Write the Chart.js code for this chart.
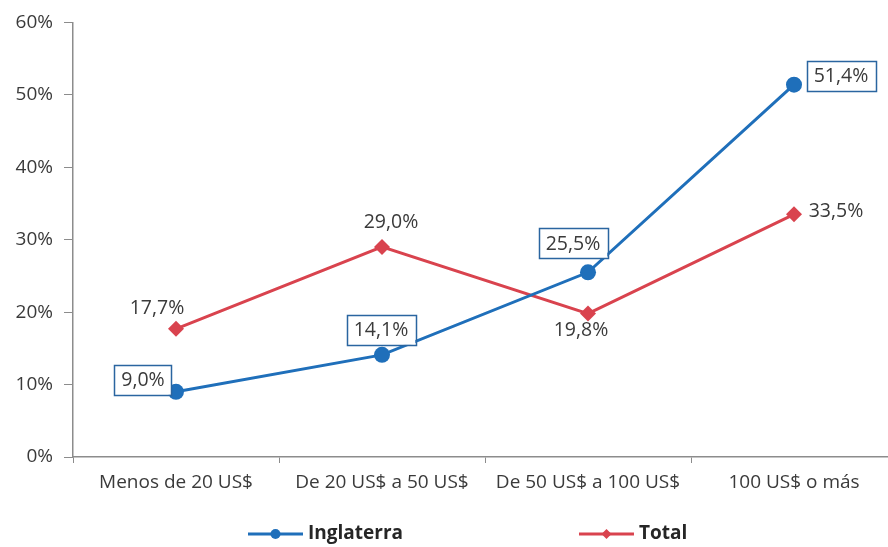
<!DOCTYPE html>
<html>
<head>
<meta charset="utf-8">
<script src="https://cdn.jsdelivr.net/npm/chart.js@4/dist/chart.umd.min.js"></script>
<style>
  html, body { margin: 0; padding: 0; background: #ffffff; width: 888px; height: 547px; overflow: hidden; }
  #c { display: block; }
</style>
</head>
<body>
<canvas id="c" width="905" height="547"></canvas>
<script>
// ---- data ----
const categories = ['Menos de 20 US$', 'De 20 US$ a 50 US$', 'De 50 US$ a 100 US$', '100 US$ o más'];
const inglaterra = [9.0, 14.1, 25.5, 51.4];
const total = [17.7, 29.0, 19.8, 33.5];
const yTicks = [0, 10, 20, 30, 40, 50, 60];
const seriesNames = ['Inglaterra', 'Total'];

// ---- styles ----
const BLUE = '#1f6fba';
const RED = '#d9434e';
const AXIS = '#8c8c8c';
const TEXT = '#3a3a3a';
const FONT = "'Open Sans', 'DejaVu Sans', sans-serif";

// label offsets relative to each point (style only)
const labelOffsets = [
  [[-33, -12], [-1, -25], [-15, -29], [47, -9]],
  [[-19, -21], [9, -26], [-7, 16], [42, -4]]
];
const labelBoxed = [true, false];

const fmt = v => v.toFixed(1).replace('.', ',') + '%';

const dataLabelPlugin = {
  id: 'dataLabels',
  afterDatasetsDraw(chart) {
    const ctx = chart.ctx;
    ctx.save();
    ctx.font = '19.5px ' + FONT;
    ctx.textAlign = 'center';
    ctx.textBaseline = 'middle';
    chart.data.datasets.forEach((ds, di) => {
      const meta = chart.getDatasetMeta(di);
      meta.data.forEach((el, i) => {
        const txt = fmt(ds.data[i]);
        const x = el.x + labelOffsets[di][i][0];
        const y = el.y + labelOffsets[di][i][1];
        if (labelBoxed[di]) {
          const w = ctx.measureText(txt).width + 14;
          const h = 30;
          ctx.fillStyle = '#ffffff';
          ctx.fillRect(x - w / 2, y - h / 2, w, h);
          ctx.strokeStyle = '#2a65a0';
          ctx.lineWidth = 1.5;
          ctx.strokeRect(Math.round(x - w / 2) + 0.5, Math.round(y - h / 2) + 0.5, Math.round(w), h);
        }
        ctx.fillStyle = TEXT;
        ctx.fillText(txt, x, y + 1);
      });
    });
    ctx.restore();
  }
};

const legendPlugin = {
  id: 'customLegend',
  afterDraw(chart) {
    const ctx = chart.ctx;
    ctx.save();
    ctx.font = 'bold 19px ' + FONT;
    ctx.textBaseline = 'middle';
    ctx.textAlign = 'left';
    const y = 534;
    const lineLen = 55, textGap = 5, itemGap = 176;
    let x = 248;
    chart.data.datasets.forEach((ds, di) => {
      ctx.strokeStyle = ds.borderColor;
      ctx.lineWidth = 3;
      ctx.beginPath();
      ctx.moveTo(x, y);
      ctx.lineTo(x + lineLen, y);
      ctx.stroke();
      ctx.fillStyle = ds.borderColor;
      const cx = x + lineLen / 2;
      ctx.beginPath();
      if (ds.pointStyle === 'rectRot') {
        const r = 5;
        ctx.moveTo(cx, y - r); ctx.lineTo(cx + r, y); ctx.lineTo(cx, y + r); ctx.lineTo(cx - r, y);
        ctx.closePath();
      } else {
        ctx.arc(cx, y, 5, 0, Math.PI * 2);
      }
      ctx.fill();
      ctx.fillStyle = '#262626';
      const tx = x + lineLen + textGap;
      ctx.fillText(ds.label, tx, y);
      x = tx + ctx.measureText(ds.label).width + itemGap;
    });
    ctx.restore();
  }
};

new Chart(document.getElementById('c'), {
  type: 'line',
  data: {
    labels: categories,
    datasets: [
      {
        label: seriesNames[0],
        data: inglaterra,
        borderColor: BLUE,
        backgroundColor: BLUE,
        borderWidth: 3,
        pointStyle: 'circle',
        pointRadius: 8,
        pointBorderWidth: 0,
        tension: 0
      },
      {
        label: seriesNames[1],
        data: total,
        borderColor: RED,
        backgroundColor: RED,
        borderWidth: 3,
        pointStyle: 'rectRot',
        pointRadius: 8,
        pointBorderWidth: 0,
        tension: 0
      }
    ]
  },
  options: {
    responsive: false,
    animation: false,
    devicePixelRatio: 1,
    layout: { padding: { top: 13, right: 0, bottom: 45, left: 0 } },
    plugins: {
      legend: { display: false },
      tooltip: { enabled: false }
    },
    scales: {
      x: {
        type: 'category',
        offset: true,
        grid: {
          offset: true,
          drawOnChartArea: false,
          drawTicks: true,
          tickLength: 6,
          color: AXIS
        },
        border: { color: AXIS, width: 1.5 },
        ticks: {
          color: TEXT,
          font: { family: FONT, size: 19 },
          padding: 8,
          maxRotation: 0,
          autoSkip: false
        },
        afterFit(scale) { scale.height = 45; }
      },
      y: {
        min: 0,
        max: 60,
        afterBuildTicks(scale) { scale.ticks = yTicks.map(v => ({ value: v })); },
        grid: {
          drawOnChartArea: false,
          drawTicks: true,
          tickLength: 9,
          color: AXIS
        },
        border: { color: AXIS, width: 1.5 },
        ticks: {
          color: TEXT,
          font: { family: FONT, size: 19 },
          padding: 11,
          callback: v => v + '%'
        },
        afterFit(scale) { scale.width = 73; }
      }
    }
  },
  plugins: [dataLabelPlugin, legendPlugin]
});
</script>
</body>
</html>
